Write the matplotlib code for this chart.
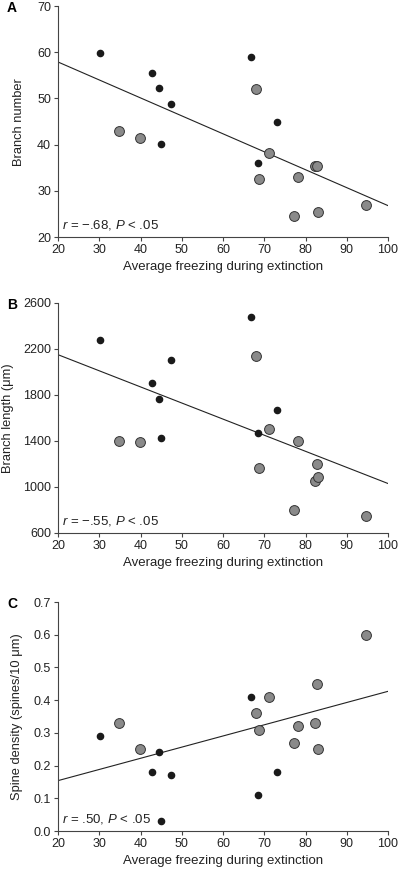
import matplotlib
matplotlib.use('Agg')
from matplotlib import pyplot as plt

plt.rcParams['font.family'] = ['Liberation Sans', 'DejaVu Sans']
plt.rcParams['mathtext.fontset'] = 'custom'
plt.rcParams['mathtext.it'] = 'Liberation Sans:italic'
plt.rcParams['mathtext.rm'] = 'Liberation Sans'

# freezing (%) for the two groups, same animals in every panel
black_x = [30.3, 42.9, 44.6, 47.5, 44.9, 66.8, 73.2, 68.6]
gray_x = [34.7, 39.8, 68.0, 71.1, 68.7, 78.3, 82.3, 82.9, 77.3, 83.1, 94.7]

# A: branch number
a_black = [59.8, 55.5, 52.3, 48.7, 40.2, 59.0, 45.0, 36.0]
a_gray = [43.0, 41.5, 52.0, 38.2, 32.5, 33.0, 35.3, 35.3, 24.5, 25.5, 27.0]
a_fit = [57.9, 26.8]

# B: branch length (um)
b_black = [2274, 1902, 1762, 2105, 1429, 2475, 1672, 1465]
b_gray = [1400, 1391, 2137, 1500, 1165, 1403, 1052, 1203, 803, 1090, 748]
b_fit = [2150, 1030]

# C: spine density
c_black = [0.29, 0.18, 0.24, 0.17, 0.03, 0.41, 0.18, 0.11]
c_gray = [0.33, 0.25, 0.36, 0.41, 0.31, 0.32, 0.33, 0.45, 0.27, 0.25, 0.60]
c_fit = [0.154, 0.427]

fit_x = [20, 100]

panels = [
    ('A', a_black, a_gray, a_fit, 'Branch number', (20, 70), range(20, 71, 10),
     '$r$ = \u2212.68, $P$ < .05', (0.993, 0.7285), -0.10),
    ('B', b_black, b_gray, b_fit, 'Branch length (\u03bcm)', (600, 2600), range(600, 2601, 400),
     '$r$ = \u2212.55, $P$ < .05', (0.653, 0.3895), -0.133),
    ('C', c_black, c_gray, c_fit, 'Spine density (spines/10 \u03bcm)', (0, 0.7),
     [i / 10 for i in range(8)], '$r$ = .50, $P$ < .05', (0.3104, 0.0481), -0.107),
]

fig = plt.figure(figsize=(4, 8.73), dpi=100)
for letter, yb, yg, fit, ylab, ylim, yticks, note, (top, bottom), lx in panels:
    ax = fig.add_axes([0.145, bottom, 0.825, top - bottom])
    ax.plot(fit_x, fit, color='#222222', lw=0.8, zorder=1)
    ax.scatter(gray_x, yg, s=50, color='#8a8a8a', edgecolors='#333333', linewidths=0.7, zorder=2)
    ax.scatter(black_x, yb, s=20, color='#1a1a1a', zorder=3)
    ax.set_xlim(20, 100)
    ax.set_ylim(*ylim)
    ax.set_xticks(range(20, 101, 10))
    ax.set_yticks(list(yticks))
    if letter == 'C':
        ax.set_yticklabels(['%.1f' % t for t in yticks])
    for s in ['top', 'right']:
        ax.spines[s].set_visible(False)
    for s in ['left', 'bottom']:
        ax.spines[s].set_color('#444444')
        ax.spines[s].set_linewidth(0.8)
    ax.tick_params(length=3, width=0.8, color='#444444', labelsize=9, pad=2, labelcolor='#222222')
    ax.set_xlabel('Average freezing during extinction', fontsize=9.5, color='#222222')
    ax.xaxis.set_label_coords(0.5, -0.105)
    ax.set_ylabel(ylab, fontsize=9.3, color='#222222')
    ax.yaxis.set_label_coords(lx, 0.5)
    ax.text(0.012, 0.035, note, transform=ax.transAxes, fontsize=9.5, va='baseline', color='#222222')
    fig.text(12 / 400, top - 0.002, letter, fontsize=10, fontweight='bold', ha='center', va='center')

plt.savefig('out.png', dpi=100)
